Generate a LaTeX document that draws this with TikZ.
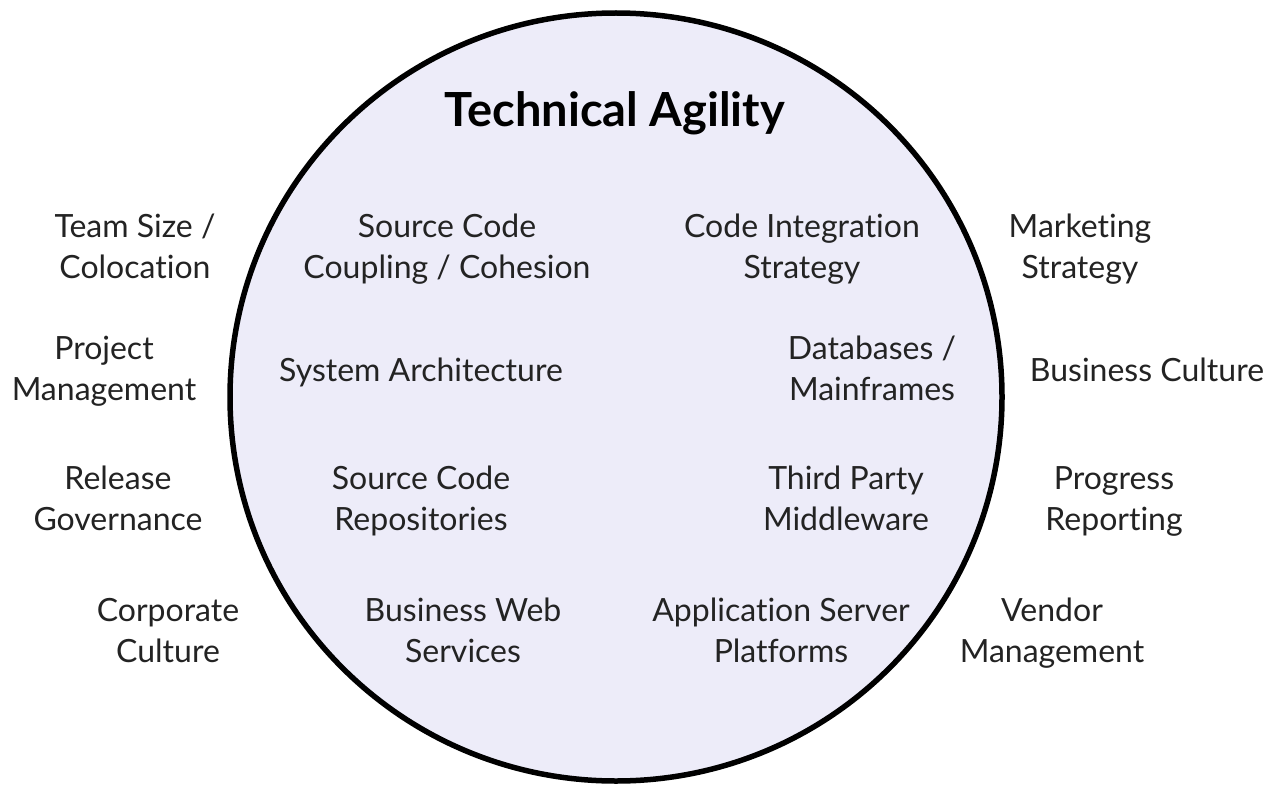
\documentclass[tikz,border=0pt]{standalone}
\usepackage{fontspec}
\setmainfont{Lato}[Ligatures={NoCommon,NoContextual}]
\definecolor{circfill}{RGB}{237,236,249}
\definecolor{txt}{RGB}{35,35,35}
\begin{document}
\begin{tikzpicture}[x=1pt,y=-1pt,
  lbl/.style={inner sep=0pt,align=center,anchor=base,text=txt,font=\fontsize{32}{41}\selectfont},
  ttl/.style={inner sep=0pt,anchor=base,text=black,font=\fontsize{47}{56}\selectfont\bfseries}]
\useasboundingbox (0,0) rectangle (1273,789);
\fill[white] (0,0) rectangle (1273,789);
\draw[line width=5.5pt,fill=circfill] (616,397) ellipse [x radius=386, y radius=384];
\node[ttl] (title) at (615,126) {Technical Agility};
% row 1 (y = baseline of last line)
\node[lbl] (team) at (135,278) {Team Size /\\Colocation};
\node[lbl] (scc) at (447,278) {Source Code\\Coupling / Cohesion};
\node[lbl] (cis) at (802,278) {Code Integration\\Strategy};
\node[lbl] (mkt) at (1080,278) {Marketing\\Strategy};
% row 2
\node[lbl] (pm) at (104,400) {Project\\Management};
\node[lbl] (sa) at (421,381) {System Architecture};
\node[lbl] (db) at (872,400) {Databases /\\Mainframes};
\node[lbl] (bc) at (1147,381) {Business Culture};
% row 3
\node[lbl] (rg) at (118,530) {Release\\Governance};
\node[lbl] (scr) at (421,530) {Source Code\\Repositories};
\node[lbl] (tpm) at (846,530) {Third Party\\Middleware};
\node[lbl] (pr) at (1114,530) {Progress\\Reporting};
% row 4
\node[lbl] (cc) at (168,662) {Corporate\\Culture};
\node[lbl] (bws) at (463,662) {Business Web\\Services};
\node[lbl] (asp) at (781,662) {Application Server\\Platforms};
\node[lbl] (vm) at (1052,662) {Vendor\\Management};
\end{tikzpicture}
\end{document}
